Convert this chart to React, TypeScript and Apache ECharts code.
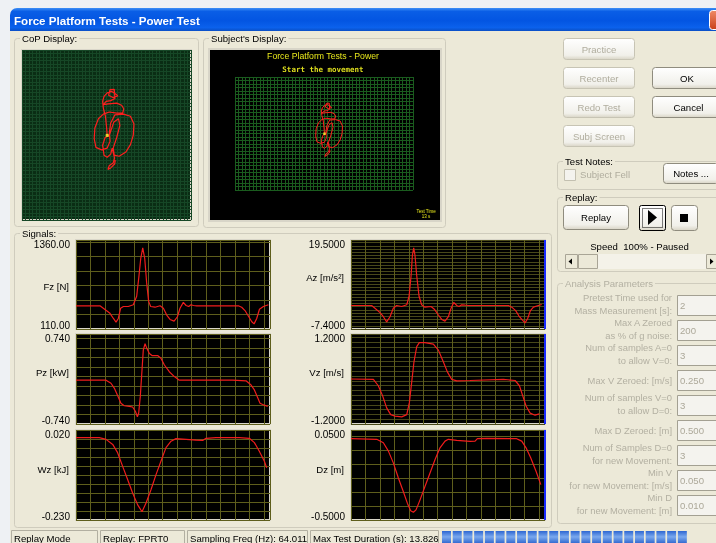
import React, { useEffect, useRef } from "react";
import * as echarts from "echarts";

// ---------------- DATA ----------------
const TITLE = "Force Platform Tests - Power Test";
const TIME_MAX = 13.43;

// [time, value]
const fzSamples: [number, number][] = [
  [0, 436], [1.66, 436], [1.89, 402], [2.35, 330], [2.59, 258], [2.77, 206], [2.93, 258], [3.09, 402],
  [3.28, 426], [3.62, 426], [3.97, 450], [4.2, 570], [4.36, 857], [4.48, 1097], [4.62, 1250], [4.76, 1097],
  [4.89, 761], [5.03, 498], [5.17, 426], [5.47, 416], [5.82, 436], [6.05, 402], [6.28, 306], [6.51, 244],
  [6.79, 220], [7.02, 282], [7.2, 402], [7.43, 484], [7.62, 440], [7.8, 426], [7.96, 450], [8.13, 440],
  [8.36, 436], [11.24, 436], [11.47, 416], [11.7, 369], [11.93, 292], [12.17, 211], [12.33, 182],
  [12.51, 258], [12.7, 388], [12.97, 426], [13.32, 450],
];
const pzSamples: [number, number][] = [
  [0, -0.02], [2.08, -0.02], [2.42, -0.07], [2.65, -0.15], [2.88, -0.27], [3.11, -0.4], [3.34, -0.44],
  [3.69, -0.45], [3.92, -0.46], [4.11, -0.53], [4.25, -0.62], [4.34, -0.56], [4.45, -0.29], [4.57, 0.15],
  [4.66, 0.48], [4.78, 0.58], [4.91, 0.5], [5.08, 0.42], [5.26, 0.385], [5.65, 0.385], [5.88, 0.34],
  [6.12, 0.23], [6.46, 0.12], [6.81, 0.04], [7.15, -0.02], [7.62, -0.02], [10.85, -0.02], [11.77, -0.03],
  [12.12, -0.1], [12.35, -0.18], [12.58, -0.31], [12.74, -0.4], [12.92, -0.42], [13.27, -0.45],
];
const wzSamples: [number, number][] = [
  [0, -0.001], [1.61, -0.001], [2.08, -0.006], [2.54, -0.02], [2.88, -0.043], [3.23, -0.081], [3.58, -0.118],
  [3.92, -0.155], [4.27, -0.188], [4.57, -0.207], [4.85, -0.183], [5.19, -0.146], [5.54, -0.104],
  [5.88, -0.067], [6.23, -0.029], [6.58, -0.011], [6.92, -0.004], [7.62, -0.006], [8.31, -0.008],
  [8.77, -0.009], [9.0, -0.003], [9.69, -0.001], [11.31, -0.001], [12.0, -0.003], [12.35, -0.015],
  [12.69, -0.039], [13.04, -0.067], [13.2, -0.085],
];
const azSamples: [number, number][] = [
  [0, -0.3], [1.43, -0.3], [1.66, -1.11], [2.01, -2.45], [2.24, -3.69], [2.47, -5.24], [2.7, -3.69],
  [2.93, -1.11], [3.16, -0.3], [3.51, -0.6], [3.86, -0.08], [4.02, 2.49], [4.16, 8.68], [4.25, 14.86],
  [4.34, 17.13], [4.43, 14.86], [4.55, 8.68], [4.71, 2.49], [4.89, -0.08], [5.12, -0.8], [5.54, -0.6],
  [5.77, -1.42], [6.05, -3.17], [6.28, -4.52], [6.51, -5.03], [6.74, -3.69], [6.93, -1.11], [7.11, 0.64],
  [7.32, -0.29], [7.48, -0.6], [7.66, -0.08], [7.89, -0.19], [8.13, -0.29], [10.9, -0.3], [11.13, -0.8],
  [11.4, -1.84], [11.63, -3.48], [11.87, -4.72], [12.05, -5.55], [12.23, -4.21], [12.42, -1.84],
  [12.63, -0.8], [12.97, -0.3], [13.2, 0.02],
];
const vzSamples: [number, number][] = [
  [0, 0], [1.55, -0.01], [1.89, -0.18], [2.19, -0.45], [2.47, -0.77], [2.75, -0.95], [3.05, -0.99],
  [3.51, -1.01], [3.86, -0.95], [4.04, -0.63], [4.2, -0.09], [4.36, 0.46], [4.55, 0.865], [4.73, 0.97],
  [5.12, 0.97], [5.7, 0.93], [6.05, 0.77], [6.39, 0.46], [6.67, 0.19], [6.97, -0.01], [7.32, -0.05],
  [8.24, -0.04], [10.55, -0.01], [11.36, -0.04], [11.66, -0.18], [11.89, -0.45], [12.12, -0.72],
  [12.4, -0.91], [12.74, -0.965], [13.04, -0.93],
];
const dzSamples: [number, number][] = [
  [0, -0.003], [1.78, -0.007], [2.24, -0.028], [2.59, -0.079], [2.93, -0.151], [3.28, -0.243],
  [3.62, -0.326], [3.9, -0.397], [4.13, -0.443], [4.32, -0.453], [4.5, -0.438], [4.78, -0.377],
  [5.12, -0.295], [5.47, -0.213], [5.82, -0.13], [6.16, -0.059], [6.51, -0.018], [6.74, -0.007],
  [7.32, -0.013], [8.24, -0.02], [8.59, -0.018], [8.75, -0.003], [9.4, -0.001], [11.47, -0.003],
  [11.82, -0.018], [12.12, -0.059], [12.44, -0.12], [12.81, -0.202], [13.14, -0.284],
];

const signalNames = ["Fz [N]", "Pz [kW]", "Wz [kJ]", "Az [m/s²]", "Vz [m/s]", "Dz [m]"];
const signalMins = [110, -0.74, -0.23, -7.4, -1.2, -0.5];
const signalMaxs = [1360, 0.74, 0.02, 19.5, 1.2, 0.05];
const signalDecimals = [2, 3, 3, 4, 4, 4];
const signalSeries = [fzSamples, pzSamples, wzSamples, azSamples, vzSamples, dzSamples];

// Centre of pressure trace [x, y]
const copTrace: [number, number][] = [
  [0.2, -0.1], [0.0, 2.4], [-0.3, 5.3], [-0.9, 7.6], [-1.1, 9.5], [-0.7, 10.9], [0.2, 11.9], [1.5, 12.3],
  [2.6, 11.6], [3.2, 11.0], [1.8, 10.6], [0.6, 11.2], [1.0, 12.8], [2.2, 12.9], [2.4, 10.3], [1.2, 9.7],
  [-0.1, 9.5], [-0.9, 8.6], [0.5, 8.8], [2.9, 9.0], [4.3, 8.4], [4.9, 7.4], [4.6, 6.2], [2.9, 6.2],
  [0.8, 6.5], [-0.9, 5.9], [-2.3, 4.6], [-3.3, 2.0], [-3.5, -1.0], [-3.0, -3.5], [-1.4, -4.2], [0.2, -3.7],
  [1.0, -1.8], [0.8, 0.6], [1.2, 3.4], [2.4, 5.7], [4.8, 5.9], [6.8, 5.3], [7.8, 3.1], [7.6, -0.1],
  [6.8, -2.7], [5.5, -4.8], [3.6, -6.0], [2.2, -5.7], [1.9, -3.7], [2.9, -0.7], [3.8, 2.7], [3.4, 4.6],
  [2.1, 3.7], [0.8, -0.1], [-0.4, -0.7], [-1.1, -2.9], [-0.7, -5.7], [0.2, -6.3], [1.2, -5.4], [1.6, -3.7],
  [2.3, -6.5], [1.9, -7.9], [0.8, -8.6], [0.4, -9.7], [1.2, -9.3], [2.3, -8.2], [2.5, -7.1],
];
const copCurrent: [number, number][] = [[0.2, -0.1]];

const analysisRows: string[][] = [
  ["Pretest Time used for", "Mass Measurement [s]:"],
  ["Max A Zeroed", "as % of g noise:"],
  ["Num of samples A=0", "to allow V=0:"],
  ["Max V Zeroed: [m/s]"],
  ["Num of samples V=0", "to allow D=0:"],
  ["Max D Zeroed: [m]"],
  ["Num of Samples D=0", "for new Movement:"],
  ["Min V", "for new Movement: [m/s]"],
  ["Min D", "for new Movement: [m]"],
];
const analysisValues = ["2", "200", "3", "0.250", "3", "0.500", "3", "0.050", "0.010"];
const statusTexts = ["Replay Mode", "Replay: FPRT0", "Sampling Freq (Hz): 64.011", "Max Test Duration (s): 13.826"];

// ---------------- LAYOUT / STYLE ----------------
const FF = "'Liberation Sans', Arial, sans-serif";
const BODY = "#ece9d8";
const PLOT_COL_X = [76, 351];
const PLOT_W = 194;
const PLOT_ROW_Y = [240, 334, 430];
const PLOT_ROW_H = [89, 90, 90];
const GRID_STEP_PX = [14.5, 9.5, 9, 3.2, 4.8, 14];
const NAME_Y = [286, 372, 469, 277, 372, 469];
const NAME_RIGHT = [69, 344];

function txt(x: number, y: number, s: string, size: number, fill = "#000", align = "left", weight = "normal", extra: any = {}) {
  return {
    type: "text", x, y, z: 20, silent: true,
    style: {
      text: s, fill, font: `${weight} ${size}px ${FF}`,
      align, verticalAlign: "middle", textAlign: align, textVerticalAlign: "middle", ...extra,
    },
  };
}
function box(x: number, y: number, w: number, h: number, style: any, z = 1, r: any = 0) {
  return { type: "rect", z, silent: true, shape: { x, y, width: w, height: h, r }, style };
}

function buildOption() {
  const els: any[] = [];
  // page + window
  els.push(box(0, 0, 716, 543, { fill: "#eef1f4" }, 0));
  els.push(box(10, 31, 706, 512, { fill: BODY }, 0));
  els.push(box(10, 8, 712, 23, {
    fill: new echarts.graphic.LinearGradient(0, 0, 0, 1, [
      { offset: 0, color: "#3d8ff6" }, { offset: 0.15, color: "#0a5ee6" }, { offset: 0.55, color: "#0355e2" },
      { offset: 0.85, color: "#0b61ec" }, { offset: 1, color: "#0a4fc6" },
    ]),
  }, 1, [7, 7, 0, 0]));
  els.push(txt(14, 20, TITLE, 11.6, "#ffffff", "left", "bold"));
  els.push(box(709.5, 10.5, 22, 19, {
    fill: new echarts.graphic.LinearGradient(0, 0, 0, 1, [{ offset: 0, color: "#f08a66" }, { offset: 1, color: "#c9401c" }]),
    stroke: "#ffffff", lineWidth: 1,
  }, 2, 3));

  // group boxes
  const group = (x: number, y: number, w: number, h: number, label: string, color = "#000") => {
    els.push(box(x + 0.5, y + 0.5, w, h, { fill: "none", stroke: "#cfccbd", lineWidth: 1 }, 1, 3));
    els.push(txt(x + 6, y, label, 9.6, color, "left", "normal", { backgroundColor: BODY, padding: [0, 2] }));
  };
  group(14, 38, 184, 188, "CoP Display:");
  group(203, 38, 242, 189, "Subject's Display:");
  group(14, 233, 537, 294, "Signals:");
  group(557, 161, 170, 28, "Test Notes:");
  group(557, 197, 170, 74, "Replay:");
  group(557, 283, 170, 240, "Analysis Parameters", "#b3b0a2");

  // subject display
  els.push(box(209, 49, 232, 172, { fill: "#000", stroke: "#d8d5c8", lineWidth: 2 }, 1));
  els.push(txt(323, 55.5, "Force Platform Tests - Power", 8.7, "#e8e81c", "center"));
  els.push({
    type: "text", x: 323, y: 69.5, z: 20, silent: true,
    style: { text: "Start the movement", fill: "#dede1e", font: `bold 7.5px 'DejaVu Sans Mono', monospace`, align: "center", verticalAlign: "middle", textAlign: "center", textVerticalAlign: "middle" },
  });
  els.push(txt(426, 211, "Test Time", 4.5, "#e8e81c", "center"));
  els.push(txt(426, 216.5, "13 s", 4.5, "#e8e81c", "center"));

  // buttons
  const btnFill = new echarts.graphic.LinearGradient(0, 0, 0, 1, [
    { offset: 0, color: "#ffffff" }, { offset: 0.8, color: "#f1f0ea" }, { offset: 1, color: "#d9d5c6" },
  ]);
  const button = (x: number, y: number, w: number, h: number, label: string, enabled: boolean) => {
    els.push(box(x + 0.5, y + 0.5, w, h, { fill: btnFill, stroke: enabled ? "#8f8c7e" : "#c7c4b4", lineWidth: 1 }, 3, 3));
    if (label) els.push(txt(x + w / 2 + 0.5, y + h / 2 + 0.5, label, 9.6, enabled ? "#000" : "#b0ad9e", "center"));
  };
  button(563, 38, 71, 21, "Practice", false);
  button(563, 67, 71, 21, "Recenter", false);
  button(563, 96, 71, 21, "Redo Test", false);
  button(563, 125, 71, 21, "Subj Screen", false);
  button(652, 67, 69, 21, "OK", true);
  button(652, 96, 72, 21, "Cancel", true);
  button(663, 163, 55, 20, "Notes ...", true);
  button(563, 205, 65, 24, "Replay", true);
  // play / stop
  els.push(box(639.5, 205.5, 26, 25, { fill: btnFill, stroke: "#000", lineWidth: 1 }, 3, 2));
  els.push(box(642.5, 208.5, 20, 19, { fill: "none", stroke: "#000", lineWidth: 1, lineDash: [1, 1] }, 4));
  els.push({ type: "polygon", z: 5, silent: true, shape: { points: [[648, 210], [648, 225], [657, 217.5]] }, style: { fill: "#000" } });
  button(671, 205, 26, 25, "", true);
  els.push(box(680, 214, 8, 8, { fill: "#000" }, 5));

  // checkbox
  els.push(box(564.5, 169.5, 11, 11, { fill: "#f4f3ee", stroke: "#c3c0b0", lineWidth: 1 }, 3));
  els.push(txt(580, 174.5, "Subject Fell", 9.6, "#b0ad9e"));

  // speed + scrollbar
  els.push(txt(639.5, 246, "Speed  100% - Paused", 9.6, "#000", "center"));
  els.push(box(565, 254, 151, 15, { fill: "#f4f2e9" }, 2));
  els.push(box(565.5, 254.5, 12, 14, { fill: "#ece9d8", stroke: "#a9a596", lineWidth: 1 }, 3));
  els.push(box(578.5, 254.5, 19, 14, { fill: "#ece9d8", stroke: "#a9a596", lineWidth: 1 }, 3));
  els.push(box(706.5, 254.5, 12, 14, { fill: "#ece9d8", stroke: "#a9a596", lineWidth: 1 }, 3));
  els.push({ type: "polygon", z: 5, silent: true, shape: { points: [[568.5, 261.5], [572, 258.5], [572, 264.5]] }, style: { fill: "#000" } });
  els.push({ type: "polygon", z: 5, silent: true, shape: { points: [[713.5, 261.5], [710, 258.5], [710, 264.5]] }, style: { fill: "#000" } });

  // analysis parameters
  analysisRows.forEach((lines, i) => {
    const top = 295 + i * 25;
    if (lines.length === 2) {
      els.push(txt(672, top + 2, lines[0], 9.4, "#b3b0a2", "right"));
      els.push(txt(672, top + 15, lines[1], 9.4, "#b3b0a2", "right"));
    } else {
      els.push(txt(672, top + 10, lines[0], 9.4, "#b3b0a2", "right"));
    }
    els.push(box(677.5, top + 0.5, 45, 20, { fill: "#f4f3ee", stroke: "#a3a092", lineWidth: 1 }, 3));
    els.push(txt(680, top + 10.5, analysisValues[i], 9.6, "#aca899"));
  });

  // signal names
  signalNames.forEach((n, i) => {
    const col = Math.floor(i / 3);
    els.push(txt(NAME_RIGHT[col], NAME_Y[i], n, 9.6, "#000", "right"));
  });

  // status bar
  const panels = [[11, 97], [100, 184], [187, 307], [310, 438]];
  panels.forEach(([a, b], i) => {
    els.push(box(a + 0.5, 530.5, b - a, 15, { fill: "none", stroke: "#b2afa1", lineWidth: 1 }, 2));
    els.push(txt(a + 3, 538.5, statusTexts[i], 9.6, "#000"));
  });
  const progFill = new echarts.graphic.LinearGradient(0, 0, 0, 1, [
    { offset: 0, color: "#2d66d2" }, { offset: 0.45, color: "#7aa8ee" }, { offset: 1, color: "#2a62cc" },
  ]);
  for (let k = 0; k < 23; k++) {
    els.push(box(442 + k * 10.72, 531, 9, 13, { fill: progFill }, 2));
  }

  // ---------- grids / axes / series ----------
  const grids: any[] = [];
  const xAxes: any[] = [];
  const yAxes: any[] = [];
  const series: any[] = [];
  const hidden = { axisLine: { show: false }, axisTick: { show: false }, axisLabel: { show: false } };

  signalSeries.forEach((data, i) => {
    const col = Math.floor(i / 3);
    const row = i % 3;
    const h = PLOT_ROW_H[row];
    const min = signalMins[i];
    const max = signalMaxs[i];
    const dec = signalDecimals[i];
    const dense = GRID_STEP_PX[i] < 6;
    grids.push({
      left: PLOT_COL_X[col], top: PLOT_ROW_Y[row], width: PLOT_W, height: h,
      show: true, backgroundColor: "#000", borderColor: "#d9d6c9", borderWidth: 2, z: 2,
    });
    xAxes.push({
      gridIndex: i, type: "value", min: 0, max: TIME_MAX, interval: 1, z: 2, ...hidden,
      splitLine: { show: true, lineStyle: { color: "#5e5e1c", width: 1 } },
    });
    yAxes.push({
      gridIndex: i, type: "value", min, max, z: 2,
      axisLine: { show: false }, axisTick: { show: false }, splitLine: { show: false },
      axisLabel: {
        show: true, customValues: [min, max], margin: 6,
        formatter: (v: number) => (Math.abs(v - max) < 1e-9 ? `{t|${v.toFixed(dec)}}` : `{b|${v.toFixed(dec)}}`),
        rich: {
          t: { padding: [9, 0, 0, 0], fontSize: 10, color: "#000", fontFamily: FF },
          b: { padding: [0, 0, 7, 0], fontSize: 10, color: "#000", fontFamily: FF },
        },
      },
    });
    yAxes.push({
      gridIndex: i, type: "value", min: 0, max: h / GRID_STEP_PX[i], interval: 1, z: 2, ...hidden,
      splitLine: { show: true, lineStyle: { color: dense ? "#48481a" : "#5e5e1c", width: 1 } },
    });
    const s: any = {
      type: "line", xAxisIndex: i, yAxisIndex: 2 * i, data, showSymbol: false, symbol: "none",
      lineStyle: { color: "#f01c1c", width: 1.2 }, z: 4, silent: true,
    };
    if (col === 1) {
      s.markLine = {
        silent: true, symbol: ["none", "none"], label: { show: false },
        lineStyle: { color: "#1a2aff", width: 2, type: "solid" },
        data: [{ xAxis: TIME_MAX - 0.03 }],
      };
    }
    series.push(s);
  });

  // CoP display (grid 6)
  const copLine = { show: true, lineStyle: { color: "#164726", width: 1 } };
  grids.push({ left: 22, top: 50, width: 169, height: 170, show: true, backgroundColor: "#0a2d14", borderColor: "#d9d6c9", borderWidth: 2, z: 2 });
  xAxes.push({ gridIndex: 6, type: "value", min: -24, max: 24, interval: 1, z: 2, ...hidden, splitLine: copLine });
  yAxes.push({ gridIndex: 6, type: "value", min: -24, max: 24, interval: 1, z: 2, ...hidden, splitLine: copLine });
  // Subject display (grid 7)
  const subjLine = { show: true, lineStyle: { color: "#1a5c1e", width: 1 } };
  grids.push({ left: 235, top: 77, width: 178, height: 113, show: false, z: 2 });
  xAxes.push({ gridIndex: 7, type: "value", min: -37.5, max: 37.5, interval: 1.5, z: 2, ...hidden, splitLine: subjLine });
  yAxes.push({ gridIndex: 7, type: "value", min: -24, max: 24, interval: 1.5, z: 2, ...hidden, splitLine: subjLine });

  series.push({ type: "line", xAxisIndex: 6, yAxisIndex: 12, data: copTrace, showSymbol: false, symbol: "none", lineStyle: { color: "#ff1e1e", width: 1.2 }, z: 4, silent: true });
  series.push({ type: "scatter", xAxisIndex: 6, yAxisIndex: 12, data: copCurrent, symbol: "rect", symbolSize: 3, itemStyle: { color: "#ffff30" }, z: 5, silent: true });
  series.push({ type: "line", xAxisIndex: 7, yAxisIndex: 13, data: copTrace, showSymbol: false, symbol: "none", lineStyle: { color: "#ff1e1e", width: 1 }, z: 4, silent: true });
  series.push({ type: "scatter", xAxisIndex: 7, yAxisIndex: 13, data: copCurrent, symbol: "rect", symbolSize: 2.5, itemStyle: { color: "#ffff30" }, z: 5, silent: true });

  return {
    animation: false,
    textStyle: { fontFamily: FF },
    grid: grids,
    xAxis: xAxes,
    yAxis: yAxes,
    series,
    graphic: { elements: els },
  };
}

export default function App() {
  const ref = useRef<HTMLDivElement>(null);
  useEffect(() => {
    if (!ref.current) return;
    const chart = echarts.init(ref.current, undefined, { renderer: "svg" });
    chart.setOption(buildOption() as any);
    return () => chart.dispose();
  }, []);
  return <div ref={ref} style={{ position: "fixed", left: 0, top: 0, width: 716, height: 543 }} />;
}
